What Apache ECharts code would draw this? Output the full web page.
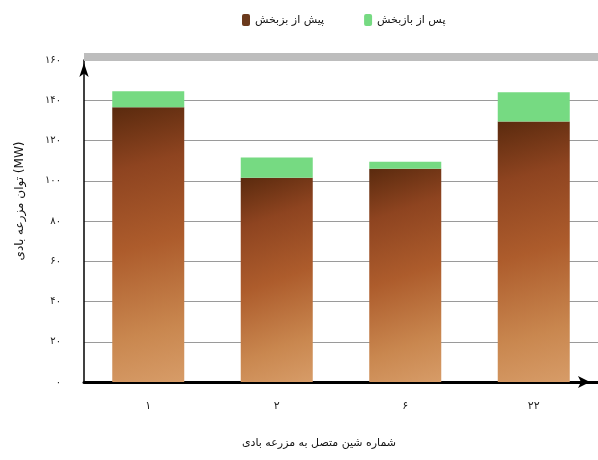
<!DOCTYPE html>
<html>
<head>
<meta charset="utf-8">
<script src="https://cdn.jsdelivr.net/npm/echarts@6/dist/echarts.min.js"></script>
<style>html,body{margin:0;padding:0;background:#fff}#c{width:598px;height:460px}</style>
</head>
<body>
<div id="c"></div>
<script>
// ---- data ----
const categories = ['۱', '۲', '۶', '۲۲'];
const beforeValues = [136.5, 101.5, 106, 129.5];   // پیش از بازبخش
const addedValues = [8, 10, 3.5, 14.5];            // increment after redistribution
const yTickLabels = ['۰', '۲۰', '۴۰', '۶۰', '۸۰', '۱۰۰', '۱۲۰', '۱۴۰', '۱۶۰'];
const seriesNames = ['پیش از بزبخش', 'پس از بازبخش'];
const yAxisTitle = 'توان مزرعه بادی (MW)';
const xAxisTitle = 'شماره شین متصل به مزرعه بادی';

const FONT = 'DejaVu Sans';
const chart = echarts.init(document.getElementById('c'));
const brownGrad = new echarts.graphic.LinearGradient(0, 0, 1, 1, [
  { offset: 0, color: '#5a2a0e' },
  { offset: 0.22, color: '#8e4420' },
  { offset: 0.5, color: '#ad5c2c' },
  { offset: 0.8, color: '#c9874f' },
  { offset: 1, color: '#d79c68' }
]);
chart.setOption({
  animation: false,
  backgroundColor: '#fff',
  textStyle: { fontFamily: FONT },
  legend: {
    top: 9, left: 237,
    itemWidth: 8, itemHeight: 12, itemGap: 40,
    textStyle: { fontFamily: FONT, fontSize: 11, color: '#111' },
    data: [
      { name: seriesNames[0], itemStyle: { color: '#6b3a1c' } },
      { name: seriesNames[1], itemStyle: { color: '#76da82' } }
    ]
  },
  grid: { left: 84, top: 60, width: 518, height: 322 },
  xAxis: [{
    type: 'category',
    data: categories,
    axisTick: { show: false },
    axisLine: { lineStyle: { color: '#000', width: 3 }, symbol: ['none', 'arrow'], symbolSize: [9, 12], symbolOffset: [0, -8] },
    axisLabel: { fontFamily: FONT, fontSize: 11, color: '#222', margin: 19 },
    name: xAxisTitle,
    nameLocation: 'middle',
    nameGap: 56,
    nameTextStyle: { fontFamily: FONT, fontSize: 11, color: '#111', padding: [0, 44, 0, 0] }
  }, {
    type: 'category',
    position: 'top',
    offset: 3,
    data: categories,
    axisTick: { show: false },
    axisLabel: { show: false },
    axisLine: { lineStyle: { color: '#bdbdbd', width: 8, cap: 'butt' } }
  }],
  yAxis: {
    type: 'value',
    min: 0, max: 160, interval: 20,
    axisLine: { show: true, lineStyle: { color: '#000', width: 1.5 }, symbol: ['none', 'arrow'], symbolSize: [7, 14], symbolOffset: [0, -3] },
    axisTick: { show: false },
    splitLine: { lineStyle: { color: '#9a9a9a', width: 1.2 } },
    axisLabel: {
      fontFamily: FONT, fontSize: 10, color: '#222', margin: 23,
      formatter: v => yTickLabels[Math.round(v / 20)]
    },
    name: yAxisTitle,
    nameLocation: 'middle',
    nameGap: 58,
    nameRotate: 90,
    nameTextStyle: { fontFamily: FONT, fontSize: 12, color: '#111', padding: [0, 0, 0, 40] }
  },
  series: [{
    name: seriesNames[0],
    type: 'bar',
    stack: 'p',
    barWidth: 72,
    data: beforeValues,
    itemStyle: { color: brownGrad }
  }, {
    name: seriesNames[1],
    type: 'bar',
    stack: 'p',
    barWidth: 72,
    data: addedValues,
    itemStyle: { color: '#76da82' }
  }]
});
</script>
</body>
</html>
